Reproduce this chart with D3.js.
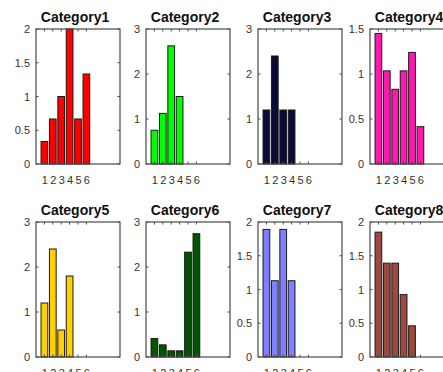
<!DOCTYPE html>
<html><head><meta charset="utf-8">
<script src="https://cdn.jsdelivr.net/npm/d3@7"></script>
<style>body{margin:0;background:#fff;overflow:hidden}svg{display:block}</style>
</head><body>
<script>
const categories = ["Category1","Category2","Category3","Category4","Category5","Category6","Category7","Category8"];
const xLabels = ["1","2","3","4","5","6"];
const cat1 = [0.333,0.667,1.0,2.0,0.667,1.333];
const cat2 = [0.75,1.125,2.625,1.5,0,0];
const cat3 = [1.2,2.4,1.2,1.2,0,0];
const cat4 = [1.45,1.035,0.83,1.035,1.24,0.415];
const cat5 = [1.2,2.4,0.6,1.8,0,0];
const cat6 = [0.41,0.27,0.137,0.137,2.33,2.74];
const cat7 = [1.89,1.13,1.89,1.13,0,0];
const cat8 = [1.85,1.39,1.39,0.925,0.4625,0];
const seriesValues = [cat1,cat2,cat3,cat4,cat5,cat6,cat7,cat8];
const yMax = [2,3,3,1.5,3,3,2,2];
const yTicks = [[0,0.5,1,1.5,2],[0,1,2,3],[0,1,2,3],[0,0.5,1,1.5],[0,1,2,3],[0,1,2,3],[0,0.5,1,1.5,2],[0,0.5,1,1.5,2]];
const colors = ["#ff0000","#00ff00","#0a0a35","#ff19b0","#ffd000","#005500","#8080ff","#9c4a40"];

const W=443,H=372;
const svg=d3.select("body").append("svg").attr("width",W).attr("height",H);
const lefts=[36,146,258,370], tops=[29,222];
const pw=84, ph=135;
const axisColor="#4a4a4a", textColor="#333";

categories.forEach((cat,i)=>{
  const col=i%4,row=Math.floor(i/4);
  const g=svg.append("g").attr("transform",`translate(${lefts[col]},${tops[row]})`);
  const x=d3.scaleLinear().domain([0,10]).range([0,pw]);
  const y=d3.scaleLinear().domain([0,yMax[i]]).range([ph,0]);
  const vals=seriesValues[i];
  g.selectAll("rect.bar").data(vals).join("rect").attr("class","bar")
    .attr("x",(d,j)=>x(j+1-0.4)).attr("width",x(0.8)-x(0))
    .attr("y",d=>y(d)).attr("height",d=>y(0)-y(d))
    .attr("fill",colors[i]).attr("stroke","#1a1a1a").attr("stroke-width",1);
  // left axis
  const ya=d3.axisLeft(y).tickValues(yTicks[i]).tickSize(0).tickPadding(6).tickFormat(d3.format("~g"));
  const yg=g.append("g").call(ya);
  yg.select(".domain").remove();
  yg.selectAll("text").attr("fill",textColor).style("font-family","Arial, Liberation Sans, sans-serif").style("font-size","11px");
  // x axis labels
  const xa=d3.axisBottom(x).tickValues([1,2,3,4,5,6]).tickSize(0).tickPadding(12).tickFormat((d,j)=>xLabels[j]);
  const xg=g.append("g").attr("transform",`translate(0,${ph})`).call(xa);
  xg.select(".domain").remove();
  xg.selectAll("text").attr("fill",textColor).style("font-family","Arial, Liberation Sans, sans-serif").style("font-size","11px");
  // inner ticks
  const tl=2.5;
  yTicks[i].forEach(t=>{
    g.append("line").attr("x1",0).attr("x2",tl).attr("y1",y(t)).attr("y2",y(t)).attr("stroke",axisColor);
    g.append("line").attr("x1",pw).attr("x2",pw-tl).attr("y1",y(t)).attr("y2",y(t)).attr("stroke",axisColor);
  });
  [1,2,3,4,5,6].forEach(t=>{
    g.append("line").attr("x1",x(t)).attr("x2",x(t)).attr("y1",0).attr("y2",tl).attr("stroke",axisColor);
    g.append("line").attr("x1",x(t)).attr("x2",x(t)).attr("y1",ph).attr("y2",ph-tl).attr("stroke",axisColor);
  });
  // box
  g.append("rect").attr("x",0).attr("y",0).attr("width",pw).attr("height",ph)
    .attr("fill","none").attr("stroke",axisColor).attr("stroke-width",1.2);
  // title
  g.append("text").attr("x",pw/2-3).attr("y",-7).attr("text-anchor","middle")
    .style("font-family","Arial, Liberation Sans, sans-serif").style("font-size","14px").style("font-weight","bold")
    .attr("fill","#111").text(cat);
});
</script>
</body></html>
